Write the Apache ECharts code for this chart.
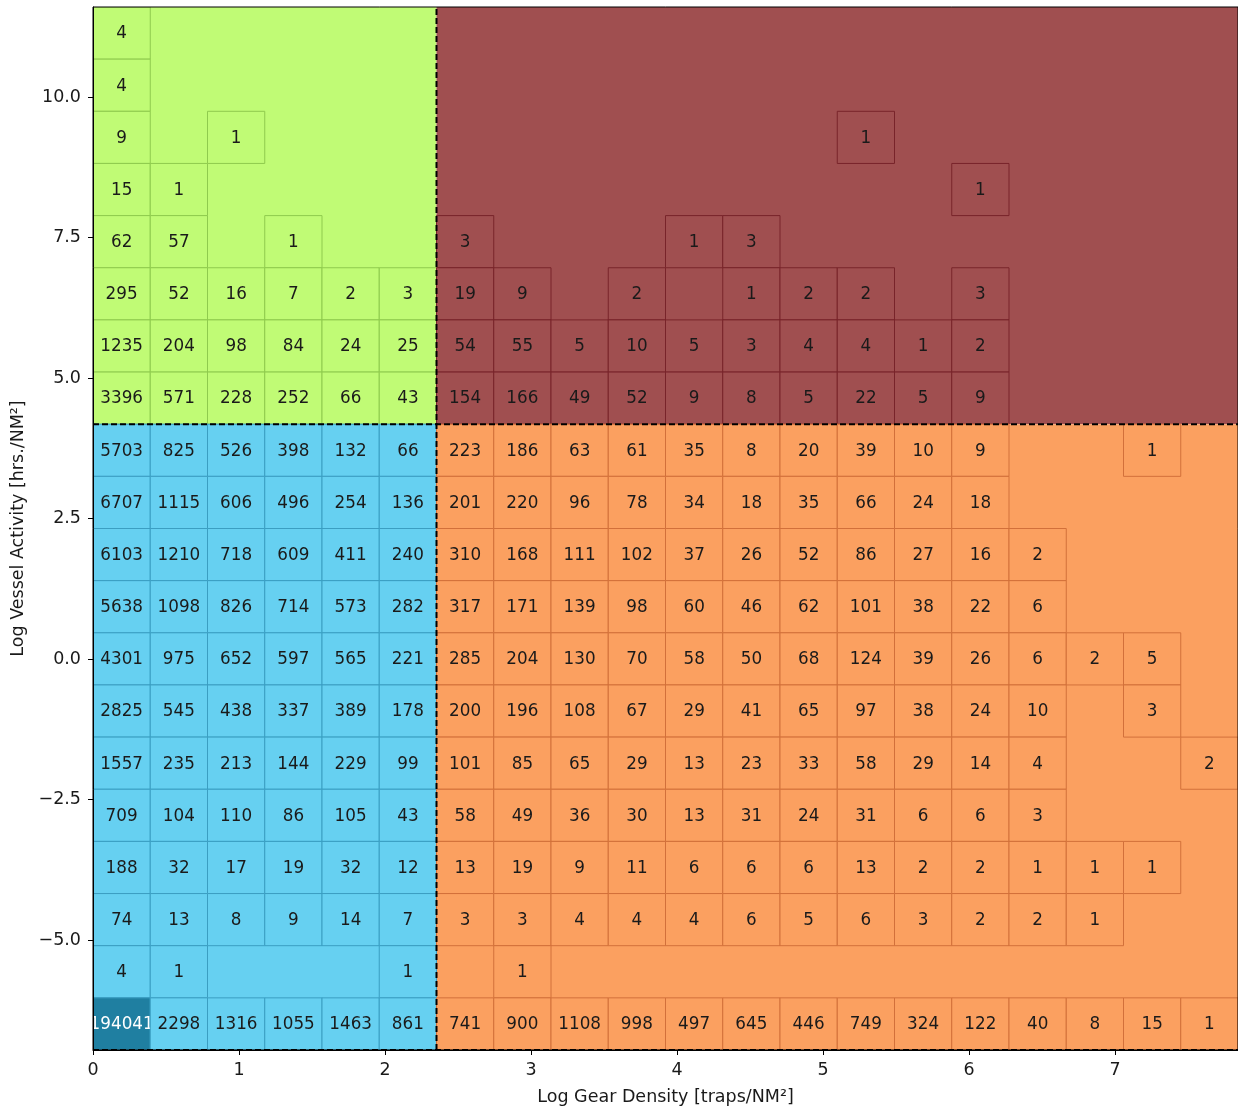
<!DOCTYPE html>
<html>
<head>
<meta charset="utf-8">
<script src="https://cdn.jsdelivr.net/npm/echarts@6/dist/echarts.min.js"></script>
<style>
  html, body { margin: 0; padding: 0; background: #ffffff; }
  #chart { width: 1238px; height: 1109px; }
</style>
</head>
<body>
<div id="chart"></div>
<script>
// Axis extents in log units and the 20 x 20 binning of the 2-D histogram
const X_MAX = 7.842;
const Y_MIN = -6.957;
const Y_MAX = 11.601;
const N_X = 20;
const N_Y = 20;
const SPLIT_COL = 6;   // gear-density threshold sits on this bin edge
const SPLIT_ROW = 12;  // vessel-activity threshold sits on this bin edge (counted from bottom)

const xTicks = [0, 1, 2, 3, 4, 5, 6, 7];
const yTicks = [-5, -2.5, 0, 2.5, 5, 7.5, 10];

// Bin counts, top row first; null marks an empty bin
const _ = null;
const counts = [
  [4, _, _, _, _, _, _, _, _, _, _, _, _, _, _, _, _, _, _, _],
  [4, _, _, _, _, _, _, _, _, _, _, _, _, _, _, _, _, _, _, _],
  [9, _, 1, _, _, _, _, _, _, _, _, _, _, 1, _, _, _, _, _, _],
  [15, 1, _, _, _, _, _, _, _, _, _, _, _, _, _, 1, _, _, _, _],
  [62, 57, _, 1, _, _, 3, _, _, _, 1, 3, _, _, _, _, _, _, _, _],
  [295, 52, 16, 7, 2, 3, 19, 9, _, 2, _, 1, 2, 2, _, 3, _, _, _, _],
  [1235, 204, 98, 84, 24, 25, 54, 55, 5, 10, 5, 3, 4, 4, 1, 2, _, _, _, _],
  [3396, 571, 228, 252, 66, 43, 154, 166, 49, 52, 9, 8, 5, 22, 5, 9, _, _, _, _],
  [5703, 825, 526, 398, 132, 66, 223, 186, 63, 61, 35, 8, 20, 39, 10, 9, _, _, 1, _],
  [6707, 1115, 606, 496, 254, 136, 201, 220, 96, 78, 34, 18, 35, 66, 24, 18, _, _, _, _],
  [6103, 1210, 718, 609, 411, 240, 310, 168, 111, 102, 37, 26, 52, 86, 27, 16, 2, _, _, _],
  [5638, 1098, 826, 714, 573, 282, 317, 171, 139, 98, 60, 46, 62, 101, 38, 22, 6, _, _, _],
  [4301, 975, 652, 597, 565, 221, 285, 204, 130, 70, 58, 50, 68, 124, 39, 26, 6, 2, 5, _],
  [2825, 545, 438, 337, 389, 178, 200, 196, 108, 67, 29, 41, 65, 97, 38, 24, 10, _, 3, _],
  [1557, 235, 213, 144, 229, 99, 101, 85, 65, 29, 13, 23, 33, 58, 29, 14, 4, _, _, 2],
  [709, 104, 110, 86, 105, 43, 58, 49, 36, 30, 13, 31, 24, 31, 6, 6, 3, _, _, _],
  [188, 32, 17, 19, 32, 12, 13, 19, 9, 11, 6, 6, 6, 13, 2, 2, 1, 1, 1, _],
  [74, 13, 8, 9, 14, 7, 3, 3, 4, 4, 4, 6, 5, 6, 3, 2, 2, 1, _, _],
  [4, 1, _, _, _, 1, _, 1, _, _, _, _, _, _, _, _, _, _, _, _],
  [194041, 2298, 1316, 1055, 1463, 861, 741, 900, 1108, 998, 497, 645, 446, 749, 324, 122, 40, 8, 15, 1]
];

// Quadrant palette: fill and cell-edge colour
const QUADRANTS = {
  lowGearHighVessel:  { fill: '#c0fb75', edge: '#8fca4e' },
  highGearHighVessel: { fill: '#a04f50', edge: '#78242a' },
  lowGearLowVessel:   { fill: '#66d0f1', edge: '#3b9ec2' },
  highGearLowVessel:  { fill: '#fba060', edge: '#d2703a' }
};
const PEAK_FILL = '#1f7fa1';
const FONT = '"DejaVu Sans", "Liberation Sans", sans-serif';
const AXIS_FONT_SIZE = 17.5;
const CELL_FONT_SIZE = 16.8;

const DX = X_MAX / N_X;
const DY = (Y_MAX - Y_MIN) / N_Y;
const X_SPLIT = SPLIT_COL * DX;
const Y_SPLIT = Y_MIN + SPLIT_ROW * DY;

function quadrantKey(col, row) {
  const high = row >= SPLIT_ROW;
  const right = col >= SPLIT_COL;
  if (high) return right ? 'highGearHighVessel' : 'lowGearHighVessel';
  return right ? 'highGearLowVessel' : 'lowGearLowVessel';
}

// Flatten the count table into [col, row(from bottom), count]
const cellData = [];
let maxCount = 0;
counts.forEach((rowVals, i) => {
  const row = N_Y - 1 - i;
  rowVals.forEach((v, col) => {
    if (v !== null) {
      cellData.push([col, row, v]);
      maxCount = Math.max(maxCount, v);
    }
  });
});

const quadrantData = [
  [0, X_SPLIT, Y_SPLIT, Y_MAX, 'lowGearHighVessel'],
  [X_SPLIT, X_MAX, Y_SPLIT, Y_MAX, 'highGearHighVessel'],
  [0, X_SPLIT, Y_MIN, Y_SPLIT, 'lowGearLowVessel'],
  [X_SPLIT, X_MAX, Y_MIN, Y_SPLIT, 'highGearLowVessel']
];

// Threshold lines and lower boundary, drawn dashed
const dashedLines = [
  [X_SPLIT, Y_MIN, X_SPLIT, Y_MAX],
  [0, Y_SPLIT, X_MAX, Y_SPLIT],
  [0, Y_MIN, X_MAX, Y_MIN]
];

function fmtY(v) {
  return v.toFixed(1).replace('-', '\u2212');
}

const chart = echarts.init(document.getElementById('chart'), null, { renderer: 'canvas' });

chart.setOption({
  animation: false,
  backgroundColor: '#ffffff',
  grid: { left: 93, top: 7, right: 0, bottom: 59, containLabel: false, outerBoundsMode: 'none' },
  xAxis: {
    type: 'value',
    min: 0,
    max: X_MAX,
    z: 10,
    name: 'Log Gear Density [traps/NM\u00B2]',
    nameLocation: 'middle',
    nameGap: 38,
    nameTextStyle: { fontFamily: FONT, fontSize: AXIS_FONT_SIZE, color: '#1a1a1a' },
    axisLine: { show: true, onZero: false, lineStyle: { color: '#000', width: 1 } },
    axisTick: { show: true, length: 5, customValues: xTicks, lineStyle: { color: '#000' } },
    axisLabel: { customValues: xTicks, margin: 11, fontFamily: FONT, fontSize: AXIS_FONT_SIZE, color: '#1a1a1a',
                 formatter: v => String(v) },
    splitLine: { show: false }
  },
  yAxis: {
    type: 'value',
    min: Y_MIN,
    max: Y_MAX,
    z: 10,
    name: 'Log Vessel Activity [hrs./NM\u00B2]',
    nameLocation: 'middle',
    nameGap: 63,
    nameTextStyle: { fontFamily: FONT, fontSize: AXIS_FONT_SIZE, color: '#1a1a1a' },
    axisLine: { show: true, onZero: false, lineStyle: { color: '#000', width: 1 } },
    axisTick: { show: true, length: 5, customValues: yTicks, lineStyle: { color: '#000' } },
    axisLabel: { customValues: yTicks, margin: 12, fontFamily: FONT, fontSize: AXIS_FONT_SIZE, color: '#1a1a1a',
                 formatter: fmtY },
    splitLine: { show: false }
  },
  series: [
    {
      // quadrant backgrounds
      type: 'custom',
      z: 1,
      clip: true,
      silent: true,
      data: quadrantData,
      renderItem: (params, api) => {
        const d = quadrantData[params.dataIndex];
        const p0 = api.coord([d[0], d[3]]);
        const p1 = api.coord([d[1], d[2]]);
        return {
          type: 'rect',
          shape: { x: p0[0], y: p0[1], width: p1[0] - p0[0], height: p1[1] - p0[1] },
          style: { fill: QUADRANTS[d[4]].fill, stroke: null }
        };
      }
    },
    {
      // histogram cells with their counts
      type: 'custom',
      z: 2,
      clip: true,
      silent: true,
      data: cellData,
      renderItem: (params, api) => {
        const col = api.value(0), row = api.value(1), n = api.value(2);
        const q = QUADRANTS[quadrantKey(col, row)];
        const p0 = api.coord([col * DX, Y_MIN + (row + 1) * DY]);
        const p1 = api.coord([(col + 1) * DX, Y_MIN + row * DY]);
        const peak = n === maxCount;
        return {
          type: 'group',
          children: [
            {
              type: 'rect',
              shape: { x: p0[0], y: p0[1], width: p1[0] - p0[0], height: p1[1] - p0[1] },
              style: { fill: peak ? PEAK_FILL : q.fill, stroke: q.edge, lineWidth: 1 }
            },
            {
              type: 'text',
              style: {
                text: String(n),
                x: (p0[0] + p1[0]) / 2,
                y: (p0[1] + p1[1]) / 2 + 1,
                align: 'center',
                verticalAlign: 'middle',
                fontFamily: FONT,
                fontSize: CELL_FONT_SIZE,
                fill: peak ? '#ffffff' : '#1a1a1a'
              }
            }
          ]
        };
      }
    },
    {
      // dashed threshold lines
      type: 'custom',
      z: 3,
      clip: false,
      silent: true,
      data: dashedLines,
      renderItem: (params, api) => {
        const d = dashedLines[params.dataIndex];
        const a = api.coord([d[0], d[1]]);
        const b = api.coord([d[2], d[3]]);
        return {
          type: 'line',
          shape: { x1: a[0], y1: a[1], x2: b[0], y2: b[1] },
          style: { stroke: '#000', lineWidth: 2, lineDash: [6, 3] }
        };
      }
    },
    {
      // plot frame
      type: 'custom',
      z: 4,
      clip: false,
      silent: true,
      data: [[0]],
      renderItem: (params, api) => {
        const p0 = api.coord([0, Y_MAX]);
        const p1 = api.coord([X_MAX, Y_MIN]);
        return {
          type: 'rect',
          shape: { x: p0[0], y: p0[1], width: p1[0] - p0[0], height: p1[1] - p0[1] },
          style: { fill: null, stroke: '#000', lineWidth: 1 }
        };
      }
    }
  ]
});
</script>
</body>
</html>
